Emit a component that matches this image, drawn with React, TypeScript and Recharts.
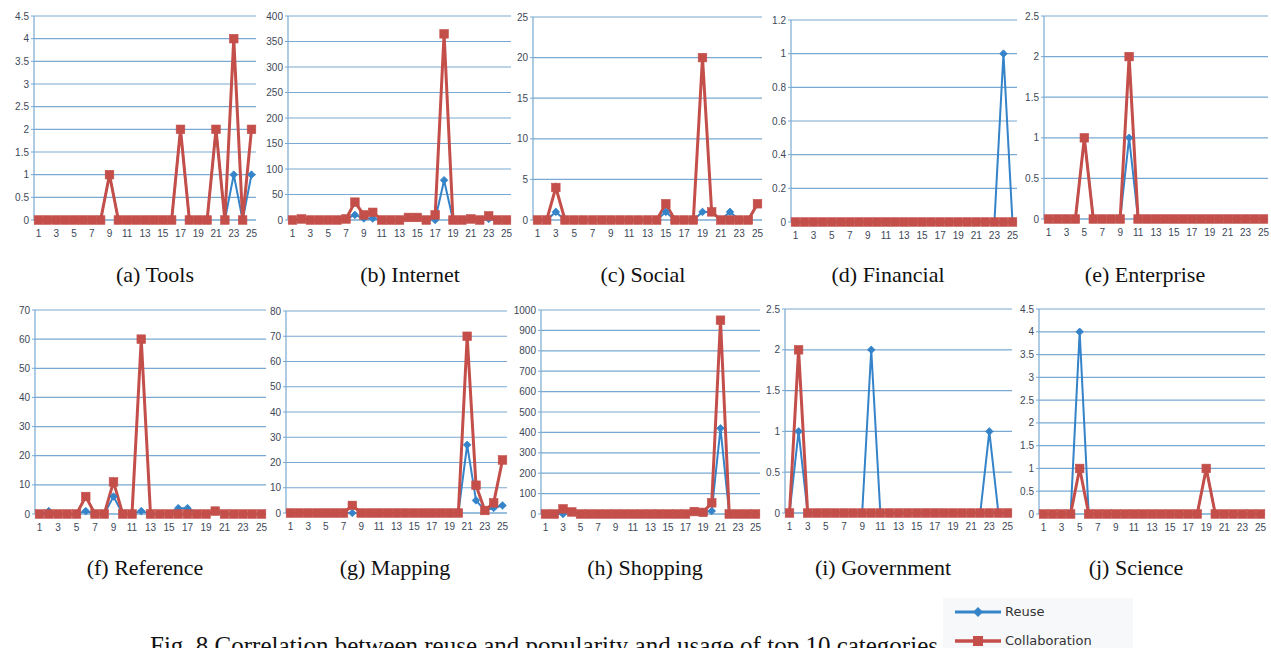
import React from "react";
import { CartesianGrid, Line, LineChart, XAxis, YAxis } from "recharts";

const xValues = [1, 2, 3, 4, 5, 6, 7, 8, 9, 10, 11, 12, 13, 14, 15, 16, 17, 18, 19, 20, 21, 22, 23, 24, 25];

const toolsReuse = [0, 0, 0, 0, 0, 0, 0, 0, 1, 0, 0, 0, 0, 0, 0, 0, 2, 0, 0, 0, 2, 0, 1, 0, 1];
const toolsCollab = [0, 0, 0, 0, 0, 0, 0, 0, 1, 0, 0, 0, 0, 0, 0, 0, 2, 0, 0, 0, 2, 0, 4, 0, 2];
const toolsTicks = [0, 0.5, 1, 1.5, 2, 2.5, 3, 3.5, 4, 4.5];

const internetReuse = [0, 2, 0, 0, 0, 0, 2, 10, 3, 3, 0, 0, 0, 5, 5, 0, 0, 78, 0, 0, 2, 0, 2, 0, 0];
const internetCollab = [0, 2, 0, 0, 0, 0, 2, 35, 10, 15, 0, 0, 0, 5, 5, 0, 10, 365, 0, 0, 2, 0, 8, 0, 0];
const internetTicks = [0, 50, 100, 150, 200, 250, 300, 350, 400];

const socialReuse = [0, 0, 1, 0, 0, 0, 0, 0, 0, 0, 0, 0, 0, 0, 1, 0, 0, 0, 1, 1, 0, 1, 0, 0, 2];
const socialCollab = [0, 0, 4, 0, 0, 0, 0, 0, 0, 0, 0, 0, 0, 0, 2, 0, 0, 0, 20, 1, 0, 0, 0, 0, 2];
const socialTicks = [0, 5, 10, 15, 20, 25];

const financialReuse = [0, 0, 0, 0, 0, 0, 0, 0, 0, 0, 0, 0, 0, 0, 0, 0, 0, 0, 0, 0, 0, 0, 0, 1, 0];
const financialCollab = [0, 0, 0, 0, 0, 0, 0, 0, 0, 0, 0, 0, 0, 0, 0, 0, 0, 0, 0, 0, 0, 0, 0, 0, 0];
const financialTicks = [0, 0.2, 0.4, 0.6, 0.8, 1, 1.2];

const enterpriseReuse = [0, 0, 0, 0, 1, 0, 0, 0, 0, 1, 0, 0, 0, 0, 0, 0, 0, 0, 0, 0, 0, 0, 0, 0, 0];
const enterpriseCollab = [0, 0, 0, 0, 1, 0, 0, 0, 0, 2, 0, 0, 0, 0, 0, 0, 0, 0, 0, 0, 0, 0, 0, 0, 0];
const enterpriseTicks = [0, 0.5, 1, 1.5, 2, 2.5];

const referenceReuse = [0, 1, 0, 0, 0, 1, 0, 0, 6, 0, 0, 1, 0, 0, 0, 2, 2, 0, 0, 1, 0, 0, 0, 0, 0];
const referenceCollab = [0, 0, 0, 0, 0, 6, 0, 0, 11, 0, 0, 60, 0, 0, 0, 0, 0, 0, 0, 1, 0, 0, 0, 0, 0];
const referenceTicks = [0, 10, 20, 30, 40, 50, 60, 70];

const mappingReuse = [0, 0, 0, 0, 0, 0, 0, 0, 0, 0, 0, 0, 0, 0, 0, 0, 0, 0, 0, 0, 27, 5, 1, 2, 3];
const mappingCollab = [0, 0, 0, 0, 0, 0, 0, 3, 0, 0, 0, 0, 0, 0, 0, 0, 0, 0, 0, 0, 70, 11, 1, 4, 21];
const mappingTicks = [0, 10, 20, 30, 40, 50, 60, 70, 80];

const shoppingReuse = [0, 0, 0, 10, 0, 0, 0, 0, 0, 0, 0, 0, 0, 0, 0, 0, 0, 12, 8, 15, 420, 0, 0, 0, 0];
const shoppingCollab = [0, 0, 25, 10, 0, 0, 0, 0, 0, 0, 0, 0, 0, 0, 0, 0, 0, 12, 8, 55, 950, 0, 0, 0, 0];
const shoppingTicks = [0, 100, 200, 300, 400, 500, 600, 700, 800, 900, 1000];

const governmentReuse = [0, 1, 0, 0, 0, 0, 0, 0, 0, 2, 0, 0, 0, 0, 0, 0, 0, 0, 0, 0, 0, 0, 1, 0, 0];
const governmentCollab = [0, 2, 0, 0, 0, 0, 0, 0, 0, 0, 0, 0, 0, 0, 0, 0, 0, 0, 0, 0, 0, 0, 0, 0, 0];
const governmentTicks = [0, 0.5, 1, 1.5, 2, 2.5];

const scienceReuse = [0, 0, 0, 0, 4, 0, 0, 0, 0, 0, 0, 0, 0, 0, 0, 0, 0, 0, 1, 0, 0, 0, 0, 0, 0];
const scienceCollab = [0, 0, 0, 0, 1, 0, 0, 0, 0, 0, 0, 0, 0, 0, 0, 0, 0, 0, 1, 0, 0, 0, 0, 0, 0];
const scienceTicks = [0, 0.5, 1, 1.5, 2, 2.5, 3, 3.5, 4, 4.5];

const REUSE = "#3583c8";
const COLLAB = "#c44f4a";
const GRID = "#79a9d2";
const TICK = "#3d4858";

const panels = [
  { title: "(a) Tools", reuse: toolsReuse, collab: toolsCollab, ticks: toolsTicks, x1: 38, x25: 251, top: 16, bottom: 220, tx: 155, ty: 275 },
  { title: "(b) Internet", reuse: internetReuse, collab: internetCollab, ticks: internetTicks, x1: 292, x25: 506, top: 16, bottom: 220, tx: 410, ty: 275 },
  { title: "(c) Social", reuse: socialReuse, collab: socialCollab, ticks: socialTicks, x1: 537, x25: 757, top: 17, bottom: 220, tx: 643, ty: 275 },
  { title: "(d) Financial", reuse: financialReuse, collab: financialCollab, ticks: financialTicks, x1: 795, x25: 1012, top: 20, bottom: 222, tx: 888, ty: 275 },
  { title: "(e) Enterprise", reuse: enterpriseReuse, collab: enterpriseCollab, ticks: enterpriseTicks, x1: 1048, x25: 1263, top: 16, bottom: 219, tx: 1145, ty: 275 },
  { title: "(f) Reference", reuse: referenceReuse, collab: referenceCollab, ticks: referenceTicks, x1: 39, x25: 261, top: 310, bottom: 514, tx: 145, ty: 568 },
  { title: "(g) Mapping", reuse: mappingReuse, collab: mappingCollab, ticks: mappingTicks, x1: 290, x25: 502, top: 311, bottom: 513, tx: 395, ty: 568 },
  { title: "(h) Shopping", reuse: shoppingReuse, collab: shoppingCollab, ticks: shoppingTicks, x1: 545, x25: 755, top: 310, bottom: 514, tx: 645, ty: 568 },
  { title: "(i) Government", reuse: governmentReuse, collab: governmentCollab, ticks: governmentTicks, x1: 789, x25: 1007, top: 309, bottom: 513, tx: 883, ty: 568 },
  { title: "(j) Science", reuse: scienceReuse, collab: scienceCollab, ticks: scienceTicks, x1: 1043, x25: 1260, top: 309, bottom: 514, tx: 1136, ty: 568 },
];

const PAD = 4.5;
const Y_W = 30;
const X_H = 24;
const M_TOP = 8;
const M_RIGHT = 4;

function Diamond(props: any) {
  const { cx, cy } = props;
  if (cx == null || cy == null) return <g />;
  const r = 3.8;
  return (
    <path
      d={`M${cx},${cy - r}L${cx + r},${cy}L${cx},${cy + r}L${cx - r},${cy}Z`}
      fill={REUSE}
      stroke={REUSE}
      strokeWidth={0.8}
    />
  );
}

function Square(props: any) {
  const { cx, cy } = props;
  if (cx == null || cy == null) return <g />;
  const s = 4.3;
  return <rect x={cx - s} y={cy - s} width={s * 2} height={s * 2} fill={COLLAB} stroke={COLLAB} strokeWidth={0.6} />;
}

function Panel({ p }: { p: (typeof panels)[number] }) {
  const data = xValues.map((x, i) => ({ x, reuse: p.reuse[i], collab: p.collab[i] }));
  const plotLeft = p.x1 - PAD;
  const plotRight = p.x25 + PAD;
  const width = plotRight - plotLeft + Y_W + M_RIGHT;
  const height = p.bottom - p.top + M_TOP + X_H;
  const max = p.ticks[p.ticks.length - 1];
  return (
    <>
      <div style={{ position: "absolute", left: plotLeft - Y_W, top: p.top - M_TOP }}>
        <LineChart width={width} height={height} data={data} margin={{ top: M_TOP, right: M_RIGHT, left: 0, bottom: 0 }}>
          <CartesianGrid vertical={false} stroke={GRID} strokeWidth={1.2} horizontalValues={p.ticks} />
          <XAxis
            dataKey="x"
            interval={1}
            height={X_H}
            padding={{ left: PAD, right: PAD }}
            axisLine={{ stroke: GRID, strokeWidth: 1.2 }}
            tickLine={false}
            tickMargin={4}
            tick={{ fontSize: 10, fill: TICK, fontFamily: "Liberation Sans, Arial, sans-serif" }}
          />
          <YAxis
            width={Y_W}
            domain={[0, max]}
            ticks={p.ticks}
            interval={0}
            axisLine={{ stroke: GRID, strokeWidth: 1.2 }}
            tickLine={{ stroke: GRID }}
            tickSize={3}
            tick={{ fontSize: 10, fill: TICK, fontFamily: "Liberation Sans, Arial, sans-serif" }}
          />
          <Line
            dataKey="reuse"
            type="linear"
            stroke={REUSE}
            strokeWidth={2}
            dot={<Diamond />}
            activeDot={false}
            isAnimationActive={false}
          />
          <Line
            dataKey="collab"
            type="linear"
            stroke={COLLAB}
            strokeWidth={3}
            dot={<Square />}
            activeDot={false}
            isAnimationActive={false}
          />
        </LineChart>
      </div>
      <div
        style={{
          position: "absolute",
          left: p.tx,
          top: p.ty,
          transform: "translate(-50%, -50%)",
          fontFamily: "Liberation Serif, Times New Roman, serif",
          fontSize: 22,
          color: "#111",
          whiteSpace: "nowrap",
        }}
      >
        {p.title}
      </div>
    </>
  );
}

function LegendBox() {
  return (
    <svg style={{ position: "absolute", left: 943, top: 598 }} width={190} height={50}>
      <rect x={0} y={0} width={190} height={50} fill="#f7f8fa" />
      <line x1={12} y1={14} x2={58} y2={14} stroke={REUSE} strokeWidth={3} />
      <path d="M35,9L40,14L35,19L30,14Z" fill={REUSE} />
      <text x={62} y={18} fontSize={13} fill="#333" fontFamily="DejaVu Sans, sans-serif">Reuse</text>
      <line x1={12} y1={43} x2={58} y2={43} stroke={COLLAB} strokeWidth={3.5} />
      <rect x={30} y={38} width={10} height={10} fill={COLLAB} />
      <text x={62} y={47} fontSize={13} fill="#333" fontFamily="DejaVu Sans, sans-serif">Collaboration</text>
    </svg>
  );
}

export default function App() {
  return (
    <div style={{ position: "absolute", left: 0, top: 0, width: 1271, height: 648, background: "#fff", overflow: "hidden" }}>
      {panels.map((p) => (
        <Panel key={p.title} p={p} />
      ))}
      <div
        style={{
          position: "absolute",
          left: 150,
          top: 633,
          fontFamily: "Liberation Serif, Times New Roman, serif",
          fontSize: 25,
          lineHeight: 1,
          color: "#111",
          whiteSpace: "nowrap",
        }}
      >
        Fig. 8 Correlation between reuse and popularity and usage of top 10 categories
      </div>
      <LegendBox />
    </div>
  );
}
